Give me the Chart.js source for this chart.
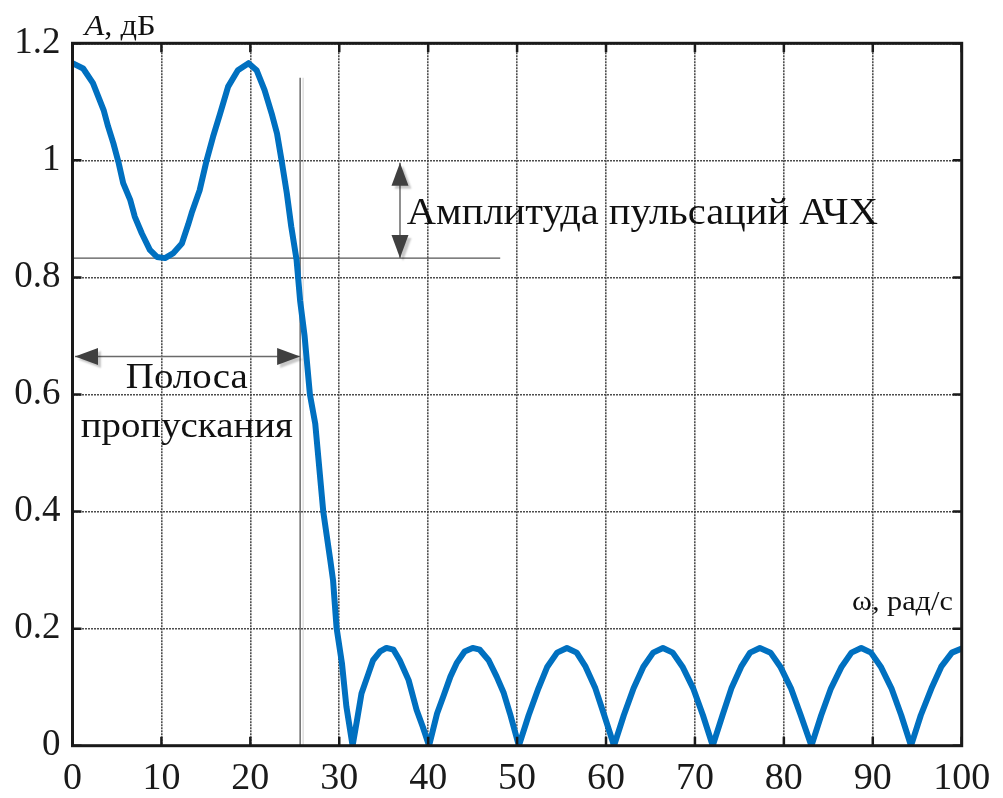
<!DOCTYPE html>
<html><head><meta charset="utf-8">
<script src="https://cdn.jsdelivr.net/npm/chart.js@4.4.1/dist/chart.umd.min.js"></script>
<style>html,body{margin:0;padding:0;background:#fff;} #wrap{width:1003px;height:798px;position:relative;}</style>
</head><body><div id="wrap"><canvas id="c" width="1003" height="798"></canvas></div>
<script>
// ---- data ----
const omega = [
  0,1.2,2.3,2.9,3.5,4.0,4.6,5.2,5.7,6.5,
  7.0,7.8,8.7,9.5,10.4,11.3,12.3,13.0,13.4,14.3,
  15.1,15.8,16.6,17.5,18.6,19.8,20.7,21.6,22.4,23.0,
  23.5,24.1,24.6,25.2,25.6,26.1,26.7,27.3,28.2,29.0,
  29.3,29.7,30.3,30.8,31.5,
  32.0,32.5,33.3,33.8,34.6,35.3,36.1,36.8,37.8,38.7,39.4,40.1,
  41.0,41.7,42.5,43.2,44.1,45.0,45.8,46.8,47.7,48.5,49.2,50.2,
  51.3,52.4,53.4,54.5,55.6,56.7,57.7,58.8,59.8,60.9,
  62.0,63.1,64.2,65.3,66.4,67.5,68.6,69.8,70.9,72.0,
  73.1,74.1,75.2,76.2,77.3,78.5,79.6,80.8,81.9,83.1,
  84.2,85.3,86.5,87.6,88.7,89.8,90.9,92.1,93.2,94.3,
  95.4,96.6,97.7,98.9,100
];
const amplitude = [
  1.166,1.157,1.132,1.109,1.086,1.058,1.029,0.995,0.961,0.932,
  0.904,0.875,0.847,0.835,0.833,0.841,0.858,0.890,0.910,0.949,
  1.001,1.040,1.080,1.126,1.154,1.166,1.154,1.120,1.080,1.046,
  1.001,0.944,0.887,0.830,0.760,0.700,0.600,0.550,0.400,0.316,
  0.283,0.201,0.141,0.067,0,
  0.044,0.089,0.124,0.146,0.161,0.167,0.164,0.146,0.112,0.061,0.032,0,
  0.055,0.084,0.118,0.141,0.161,0.167,0.164,0.146,0.118,0.090,0.055,0,
  0.052,0.098,0.135,0.159,0.167,0.159,0.135,0.098,0.052,0,
  0.052,0.098,0.135,0.159,0.167,0.159,0.135,0.098,0.052,0,
  0.052,0.098,0.135,0.159,0.167,0.159,0.135,0.098,0.052,0,
  0.052,0.098,0.135,0.159,0.167,0.159,0.135,0.098,0.052,0,
  0.052,0.098,0.135,0.159,0.166
];
const xTicks = [0,10,20,30,40,50,60,70,80,90,100];
const xTickLabels = ['0','10','20','30','40','50','60','70','80','90','100'];
const yTicks = [0,0.2,0.4,0.6,0.8,1.0,1.2];
const yTickLabels = ['0','0.2','0.4','0.6','0.8','1','1.2'];
const yTitleItalic = 'A';
const yTitleRest = ', дБ';
const xTitle = 'ω, рад/с';
const rippleLabel = 'Амплитуда пульсаций АЧХ';
const bandLabel = ['Полоса', 'пропускания'];

// ---- annotation placement (data units) ----
const notes = {
  vLine: {x: 25.6, y0: 0, y1: 1.141},
  hLine: {y: 0.833, x0: 0, x1: 48.1},
  vArrow: {x: 36.83, y0: 0.996, y1: 0.833},
  hArrow: {y: 0.665, x0: 0.28, x1: 25.6},
  rippleText: {x: 37.6, y: 0.891},
  bandText: [{x: 12.85, y: 0.611}, {x: 12.85, y: 0.527}],
  xTitle: {x: 99.0, y: 0.232}
};

const SERIF = '"Liberation Serif", "Times New Roman", serif';
const STRETCH = 1.08;

function wideText(ctx, text, x, y, align) {
  ctx.save();
  ctx.translate(x, y);
  ctx.scale(STRETCH, 1);
  ctx.textAlign = align;
  ctx.fillText(text, 0, 0);
  ctx.restore();
}

function arrowHead(ctx, tx, ty, dx, dy, L, W) {
  const bx = tx - dx * L, by = ty - dy * L;
  const px = -dy, py = dx;
  ctx.beginPath();
  ctx.moveTo(tx, ty);
  ctx.lineTo(bx + px * W, by + py * W);
  ctx.lineTo(bx - px * W, by - py * W);
  ctx.closePath();
  ctx.fill();
}
function doubleArrow(ctx, x0, y0, x1, y1) {
  const len = Math.hypot(x1 - x0, y1 - y0);
  const dx = (x1 - x0) / len, dy = (y1 - y0) / len;
  ctx.save();
  ctx.strokeStyle = '#6a6a6a';
  ctx.lineWidth = 1.5;
  ctx.beginPath(); ctx.moveTo(x0, y0); ctx.lineTo(x1, y1); ctx.stroke();
  ctx.fillStyle = '#404040';
  ctx.shadowColor = 'rgba(0,0,0,0.22)';
  ctx.shadowOffsetX = 3; ctx.shadowOffsetY = 3; ctx.shadowBlur = 2;
  arrowHead(ctx, x1, y1, dx, dy, 23, 8.5);
  arrowHead(ctx, x0, y0, -dx, -dy, 23, 8.5);
  ctx.restore();
}

const decor = {
  id: 'decor',
  beforeDatasetsDraw(chart) {
    const {ctx, scales: {x, y}} = chart;
    ctx.save();
    ctx.strokeStyle = '#555';
    ctx.lineWidth = 1.3;
    ctx.beginPath();
    ctx.moveTo(x.getPixelForValue(notes.vLine.x), y.getPixelForValue(notes.vLine.y0));
    ctx.lineTo(x.getPixelForValue(notes.vLine.x), y.getPixelForValue(notes.vLine.y1));
    ctx.stroke();
    ctx.strokeStyle = 'rgba(0,0,0,0.15)';
    ctx.beginPath();
    ctx.moveTo(x.getPixelForValue(notes.vLine.x) + 3, y.getPixelForValue(notes.vLine.y0));
    ctx.lineTo(x.getPixelForValue(notes.vLine.x) + 3, y.getPixelForValue(notes.vLine.y1));
    ctx.stroke();
    ctx.strokeStyle = '#555';
    ctx.beginPath();
    ctx.moveTo(x.getPixelForValue(notes.hLine.x0), y.getPixelForValue(notes.hLine.y));
    ctx.lineTo(x.getPixelForValue(notes.hLine.x1), y.getPixelForValue(notes.hLine.y));
    ctx.stroke();
    ctx.restore();
  },
  afterDatasetsDraw(chart) {
    const {ctx, chartArea: a, scales: {x, y}} = chart;
    ctx.save();
    // frame
    ctx.strokeStyle = '#1a1a1a';
    ctx.lineWidth = 3;
    ctx.strokeRect(a.left, a.top, a.right - a.left, a.bottom - a.top);
    // inner ticks
    ctx.lineWidth = 2.5;
    ctx.beginPath();
    xTicks.forEach(v => {
      const px = x.getPixelForValue(v);
      ctx.moveTo(px, a.bottom); ctx.lineTo(px, a.bottom - 9);
      ctx.moveTo(px, a.top); ctx.lineTo(px, a.top + 9);
    });
    yTicks.forEach(v => {
      const py = y.getPixelForValue(v);
      ctx.moveTo(a.left, py); ctx.lineTo(a.left + 9, py);
      ctx.moveTo(a.right, py); ctx.lineTo(a.right - 9, py);
    });
    ctx.stroke();

    // arrows
    doubleArrow(ctx, x.getPixelForValue(notes.vArrow.x), y.getPixelForValue(notes.vArrow.y0),
                     x.getPixelForValue(notes.vArrow.x), y.getPixelForValue(notes.vArrow.y1));
    doubleArrow(ctx, x.getPixelForValue(notes.hArrow.x0), y.getPixelForValue(notes.hArrow.y),
                     x.getPixelForValue(notes.hArrow.x1), y.getPixelForValue(notes.hArrow.y));

    // texts
    ctx.fillStyle = '#111';
    ctx.textBaseline = 'alphabetic';
    ctx.font = '37.5px ' + SERIF;
    wideText(ctx, rippleLabel, x.getPixelForValue(notes.rippleText.x), y.getPixelForValue(notes.rippleText.y), 'left');
    ctx.font = '36px ' + SERIF;
    bandLabel.forEach((t, i) => {
      wideText(ctx, t, x.getPixelForValue(notes.bandText[i].x), y.getPixelForValue(notes.bandText[i].y), 'center');
    });

    // axis titles
    ctx.font = '28px ' + SERIF;
    wideText(ctx, xTitle, x.getPixelForValue(notes.xTitle.x), y.getPixelForValue(notes.xTitle.y), 'right');
    const tx = a.left + 12, ty = a.top - 8;
    ctx.font = 'italic 30px ' + SERIF;
    wideText(ctx, yTitleItalic, tx, ty, 'left');
    const w = ctx.measureText(yTitleItalic).width * STRETCH;
    ctx.font = '30px ' + SERIF;
    wideText(ctx, yTitleRest, tx + w, ty, 'left');
    ctx.restore();
  }
};

const gridOpts = {color: '#4d4d4d', lineWidth: 1.6, drawTicks: false};

new Chart(document.getElementById('c'), {
  type: 'line',
  data: {
    datasets: [{
      data: omega.map((w, i) => ({x: w, y: amplitude[i]})),
      borderColor: '#0070C0',
      borderWidth: 6,
      pointRadius: 0,
      tension: 0,
      fill: false,
      borderJoinStyle: 'round',
      borderCapStyle: 'round'
    }]
  },
  options: {
    responsive: false,
    devicePixelRatio: 1,
    animation: false,
    layout: {padding: {left: 0, top: 43.3, right: 41.3, bottom: 0}},
    plugins: {legend: {display: false}, tooltip: {enabled: false}},
    scales: {
      x: {
        type: 'linear', min: 0, max: 100,
        grid: gridOpts,
        border: {display: false, dash: [2, 1]},
        afterBuildTicks: s => { s.ticks = xTicks.map(v => ({value: v})); },
        afterFit: s => { s.height = 52.3; },
        ticks: {
          padding: 11,
          color: '#1a1a1a',
          font: {family: SERIF, size: 38},
          maxRotation: 0,
          callback: (v) => xTickLabels[xTicks.indexOf(v)]
        }
      },
      y: {
        type: 'linear', min: 0, max: 1.2,
        grid: gridOpts,
        border: {display: false, dash: [2, 1]},
        afterBuildTicks: s => { s.ticks = yTicks.map(v => ({value: v})); },
        afterFit: s => { s.width = 72.5; },
        ticks: {
          padding: 12,
          color: '#1a1a1a',
          font: {family: SERIF, size: 37},
          callback: (v) => {
            const i = yTicks.findIndex(t => Math.abs(t - v) < 1e-9);
            return i >= 0 ? yTickLabels[i] : '';
          }
        }
      }
    }
  },
  plugins: [decor]
});
</script>
</body></html>
